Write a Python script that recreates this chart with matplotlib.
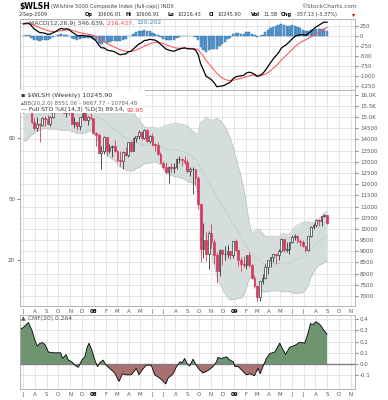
import numpy as np
import pandas as pd
import matplotlib
matplotlib.use('Agg')
import matplotlib.pyplot as plt
from matplotlib.patches import Rectangle
from matplotlib.text import Annotation

###
### Data (weekly bars, Wilshire 5000 full-cap)
###
# closes before the visible window, only used to warm up MACD / BB
pre_closes = [13631, 13793, 13823, 13911, 13779, 13947, 14152, 14150, 14107, 14239,
              14414, 14249, 14325, 14238, 14450, 14448, 14364, 14629, 14524, 14701,
              14657, 14010, 14169, 14008, 14505, 14351, 14582, 14674, 14992, 15090,
              15207, 15209, 15380, 15309, 15517, 15227, 15482, 15176, 15184]

first_week = '2007-07-02'

opens = [15210, 15490, 15710, 15530, 14770, 14500, 14710, 14630, 14970, 14920, 14710, 15020, 15440,
         15450, 15760, 15800, 15190, 15540, 15280, 14710, 14760, 14580, 14990, 15230, 14860, 15020,
         14960, 14290, 14180, 13410, 13470, 14120, 13470, 13660, 13690, 13470, 13090, 13040, 13460,
         13310, 13870, 13490, 14070, 14150, 14310, 14050, 14430, 13920, 14170, 13770, 13760, 13340,
         12940, 12780, 12540, 12760, 12730, 12750, 13120, 13140, 13080, 12980, 12570, 12670, 12700,
         12280, 11120, 9100, 9520, 8870, 9800, 9420, 8840, 8100, 9070, 8870, 8900, 8990,
         8830, 9460, 9040, 8630, 8440, 8380, 8820, 8390, 7820, 7460, 6940, 7680, 7800,
         8280, 8590, 8740, 8870, 8840, 9000, 9530, 9050, 9090, 9420, 9640, 9700, 9440,
         9420, 9230, 9060, 9690, 10090, 10170, 10410, 10340, 10570, 10607]
highs = [15520, 15760, 15830, 15550, 14990, 15000, 14730, 15000, 15050, 15100, 15060, 15500, 15560,
         15790, 15810, 15830, 15560, 15750, 15300, 14990, 14790, 15020, 15260, 15380, 15060, 15200,
         14980, 14350, 14300, 13720, 14160, 14130, 13780, 13730, 13990, 13510, 13500, 13480, 13640,
         13900, 13950, 14090, 14160, 14410, 14360, 14450, 14460, 14200, 14300, 13850, 13900, 13420,
         13020, 12980, 12830, 12960, 12930, 13180, 13250, 13170, 13250, 13140, 12780, 12780, 12700,
         12380, 11130, 10280, 9850, 9900, 10200, 9550, 8980, 9080, 9080, 9250, 9290, 9010,
         9480, 9560, 9060, 8730, 8810, 8820, 8950, 8420, 7960, 7480, 7690, 7990, 8420,
         8630, 8750, 8900, 8900, 9080, 9580, 9540, 9400, 9430, 9730, 9780, 9710, 9550,
         9500, 9240, 9700, 10120, 10250, 10440, 10460, 10590, 10680, 10607]
lows = [15180, 15300, 15480, 14720, 14440, 14380, 13900, 14600, 14620, 14690, 14600, 14980, 15350,
        15440, 15620, 15170, 15000, 15080, 14680, 14500, 14400, 14400, 14850, 14820, 14640, 14930,
        14250, 13700, 13380, 12700, 13350, 13250, 13380, 13220, 13440, 12980, 12820, 12700, 13240,
        13220, 13450, 13470, 13900, 14000, 13980, 14030, 13900, 13860, 13700, 13470, 13320, 12930,
        12660, 12450, 12050, 12550, 12510, 12660, 12950, 12820, 12920, 12480, 12350, 11560, 11980,
        10900, 8500, 8700, 8550, 8200, 9160, 8450, 7560, 7880, 8380, 8600, 8700, 8650,
        8680, 9000, 8330, 8100, 8290, 8200, 8280, 7780, 7380, 6780, 6780, 7520, 7780,
        7990, 8280, 8540, 8450, 8620, 8950, 8950, 8980, 8890, 9390, 9520, 9350, 9250,
        9200, 8970, 9000, 9620, 9990, 10100, 10120, 10120, 10510, 10216]
closes = [15490, 15710, 15530, 14770, 14500, 14710, 14630, 14970, 14920, 14710, 15020, 15440, 15450,
          15760, 15800, 15190, 15540, 15280, 14710, 14760, 14580, 14990, 15230, 14860, 15020, 14960,
          14290, 14180, 13410, 13470, 14120, 13470, 13660, 13690, 13470, 13090, 13040, 13460, 13310,
          13870, 13490, 14070, 14150, 14310, 14050, 14430, 13920, 14170, 13770, 13760, 13340, 12940,
          12780, 12540, 12760, 12730, 12750, 13120, 13140, 13080, 12980, 12570, 12670, 12700, 12280,
          11120, 9100, 9520, 8870, 9800, 9420, 8840, 8100, 9070, 8870, 8900, 8990, 8830,
          9460, 9040, 8630, 8440, 8380, 8820, 8390, 7820, 7460, 6940, 7680, 7800, 8280,
          8590, 8740, 8870, 8840, 9000, 9530, 9050, 9090, 9420, 9640, 9700, 9440, 9420,
          9230, 9060, 9690, 10090, 10170, 10410, 10340, 10570, 10610, 10246]

# Chaikin money flow
cmf_dates = ['2007-06-24', '2007-07-02', '2007-07-10', '2007-07-15', '2007-07-24', '2007-08-01',
             '2007-08-07', '2007-08-14', '2007-08-21', '2007-08-27', '2007-09-05', '2007-09-18',
             '2007-10-01', '2007-10-07', '2007-10-12', '2007-10-21', '2007-10-27', '2007-11-05',
             '2007-11-13', '2007-11-22', '2007-12-01', '2007-12-09', '2007-12-15', '2007-12-20',
             '2007-12-26', '2008-01-04', '2008-01-11', '2008-01-17', '2008-01-26', '2008-02-02',
             '2008-02-12', '2008-02-25', '2008-03-07', '2008-03-16', '2008-03-26', '2008-04-08',
             '2008-04-21', '2008-04-28', '2008-05-07', '2008-05-17', '2008-05-30', '2008-06-08',
             '2008-06-21', '2008-07-07', '2008-07-13', '2008-07-26', '2008-08-04', '2008-08-13',
             '2008-08-19', '2008-08-25', '2008-08-31', '2008-09-07', '2008-09-16', '2008-09-24',
             '2008-10-03', '2008-10-12', '2008-10-25', '2008-11-07', '2008-11-16', '2008-11-20',
             '2008-11-29', '2008-12-12', '2008-12-21', '2008-12-30', '2009-01-03', '2009-01-12',
             '2009-01-20', '2009-02-02', '2009-02-12', '2009-02-23', '2009-03-04', '2009-03-10',
             '2009-03-17', '2009-03-26', '2009-04-04', '2009-04-17', '2009-04-30', '2009-05-07',
             '2009-05-15', '2009-05-26', '2009-06-08', '2009-06-21', '2009-07-04', '2009-07-13',
             '2009-07-19', '2009-07-26', '2009-08-02', '2009-08-12', '2009-08-21', '2009-08-31']
cmf_values = [0.31, 0.325, 0.354, 0.368, 0.30, 0.21, 0.16, 0.185, 0.19, 0.174, 0.107, 0.10,
              0.10, 0.10, 0.05, 0.084, 0.035, 0.02, -0.01, -0.03, 0.035, 0.064, 0.15, 0.185,
              0.136, 0.035, -0.023, 0.012, 0.035, -0.01, -0.04, -0.08, -0.155, -0.087, -0.096, -0.096,
              -0.04, -0.096, -0.05, -0.01, -0.01, -0.096, -0.125, -0.177, -0.125, -0.087, -0.023, 0.02,
              0.012, 0.05, 0.006, -0.017, 0.043, -0.01, -0.052, -0.08, -0.058, -0.023, 0.02, 0.058,
              0.05, 0.064, 0.035, 0.02, -0.023, -0.023, -0.052, -0.096, -0.087, -0.104, -0.038, -0.087,
              -0.023, 0.05, 0.093, 0.107, 0.186, 0.136, 0.087, 0.15, 0.165, 0.194, 0.186, 0.28,
              0.36, 0.35, 0.377, 0.354, 0.31, 0.264]

price_ticks = list(range(7000, 16001, 500))
macd_ticks = [250, 0, -250, -500, -750, -1000, -1250]
cmf_ticks = [0.4, 0.3, 0.2, 0.1, 0.0, -0.1]
sto_ticks = [20, 50, 80]

###
### Indicators
###
all_close = pd.Series(pre_closes + closes, dtype=float)
ema12 = all_close.ewm(span=12, adjust=False).mean()
ema26 = all_close.ewm(span=26, adjust=False).mean()
macd_all = ema12 - ema26
signal_all = macd_all.ewm(span=9, adjust=False).mean()
mid_all = all_close.rolling(20).mean()
std_all = all_close.rolling(20).std(ddof=0)

n = len(closes)
macd = macd_all.values[-n:]
signal = signal_all.values[-n:]
hist = macd - signal
bb_mid = mid_all.values[-n:]
bb_up = bb_mid + 2 * std_all.values[-n:]
bb_lo = bb_mid - 2 * std_all.values[-n:]

dates = pd.date_range(first_week, periods=n, freq='7D')
cmf_x = pd.to_datetime(cmf_dates)
cmf_y = np.array(cmf_values)

###
### Figure layout (pixel based, 388x400)
###
W, H = 388, 400
fig = plt.figure(figsize=(W / 100, H / 100), dpi=100)

def box(top, bottom, left=20, right=355):
    return [left / W, 1 - bottom / H, (right - left) / W, (bottom - top) / H]

ax_macd = fig.add_axes(box(19, 90))
ax_price = fig.add_axes(box(90, 306))
ax_cmf = fig.add_axes(box(315, 389))

# left scale (stochastics) shares the price panel
ax_sto = ax_price.twinx()

grid_c = '#dcdcdc'
spine_c = '#a8a8a8'
tick_c = '#555555'
red = '#d43a5e'
xmin, xmax = pd.Timestamp('2007-06-23'), pd.Timestamp('2009-11-12')
months = pd.date_range('2007-07-01', '2009-11-01', freq='MS')
month_labels = [d.strftime('%y') if d.month == 1 else d.strftime('%b')[0] for d in months]

for ax in (ax_macd, ax_price, ax_cmf):
    ax.set_xlim(xmin, xmax)
    ax.set_xticks(months)
    ax.grid(True, color=grid_c, lw=0.5)
    ax.set_axisbelow(True)
    for s in ax.spines.values():
        s.set_color(spine_c)
        s.set_linewidth(0.6)
    ax.yaxis.tick_right()
    ax.yaxis.set_label_position('right')
    ax.tick_params(axis='both', labelsize=4, colors=tick_c, length=2, width=0.5, pad=1.5)

ax_macd.tick_params(axis='x', labelbottom=False, length=0)
for ax in (ax_price, ax_cmf):
    ax.set_xticklabels(month_labels)
    ax.tick_params(axis='x', length=0, pad=2.5)
    for lbl, d in zip(ax.get_xticklabels(), months):
        if d.month == 1:
            lbl.set_fontweight('bold')
            lbl.set_color('black')

###
### MACD panel
###
ax_macd.bar(dates, hist, width=6, color='#5a9bcf', edgecolor='#2f6fa6', lw=0.3, zorder=2)
ax_macd.plot(dates, signal, color='#ff5c5c', lw=0.8, zorder=3)
ax_macd.plot(dates, macd, color='black', lw=0.9, zorder=4)
ax_macd.set_ylim(-1350, 425)
ax_macd.set_yticks(macd_ticks)
ax_macd.set_yticklabels([str(v) for v in macd_ticks])

###
### Price panel
###
ax_price.fill_between(dates, bb_lo, bb_up, color='#d6dddd', lw=0, zorder=1)
ax_price.plot(dates, bb_up, color='#b8c2c2', lw=0.5, zorder=1)
ax_price.plot(dates, bb_lo, color='#b8c2c2', lw=0.5, zorder=1)
ax_price.plot(dates, bb_mid, color='#9aa4a4', lw=0.5, ls=':', zorder=1)

o = np.array(opens, dtype=float)
h = np.array(highs, dtype=float)
l = np.array(lows, dtype=float)
c = np.array(closes, dtype=float)
prev = np.concatenate([[o[0]], c[:-1]])
cols = np.where(c < prev, red, '#333333')
faces = np.where(c < o, cols, 'white')
ax_price.vlines(dates, l, h, colors=cols, lw=0.6, zorder=2)
ax_price.bar(dates, np.maximum(np.abs(c - o), 15), bottom=np.minimum(o, c), width=4.5,
             color=faces, edgecolor=cols, lw=0.5, zorder=3)

ax_price.set_ylim(6553, 16210)
ax_price.set_yticks(price_ticks)
ax_price.set_yticklabels(['%.1fK' % (v / 1000) if v >= 15000 else str(v) for v in price_ticks])

ax_sto.set_ylim(-2.6, 103.6)
ax_sto.yaxis.tick_left()
ax_sto.set_yticks(sto_ticks)
ax_sto.tick_params(axis='y', labelsize=4, colors=tick_c, length=2, width=0.5, pad=1.5)
for s in ax_sto.spines.values():
    s.set_visible(False)

# white box behind the legend
ax_price.add_patch(Rectangle((0, 1 - 23 / 216), 125 / 335, 23 / 216, transform=ax_price.transAxes,
                             facecolor='white', edgecolor='none', zorder=5))

###
### CMF panel
###
ax_cmf.fill_between(cmf_x, 0, cmf_y, where=cmf_y >= 0, interpolate=True, color='#6f9570', lw=0)
ax_cmf.fill_between(cmf_x, 0, cmf_y, where=cmf_y <= 0, interpolate=True, color='#a8706f', lw=0)
ax_cmf.plot(cmf_x, cmf_y, color='black', lw=0.6)
ax_cmf.axhline(0, color='#808080', lw=1.0, zorder=1)
ax_cmf.set_ylim(-0.222, 0.436)
ax_cmf.set_yticks(cmf_ticks)
ax_cmf.set_yticklabels(['%.1f' % v for v in cmf_ticks])

###
### Texts
###
def px(x, y):
    return x / W, 1 - y / H

def chain(parts, x, y, size):
    t = fig.text(*px(x, y), parts[0][0], color=parts[0][1], size=size, va='center', zorder=10)
    for p in parts[1:]:
        t = fig.add_artist(Annotation(p[0], xy=(1, 0), xycoords=t, va='bottom', ha='left',
                                      color=p[1], size=size, annotation_clip=False, zorder=10))
    return t

fig.text(*px(19, 6), '$WLSH', size=5.6, fontweight='bold', va='center')
fig.text(*px(51, 6.5), '(Wilshire 5000 Composite Index (full-cap)) INDX', size=3.7,
         color='#444444', va='center')
fig.text(*px(357, 6.5), '\u00a9StockCharts.com', size=4.2, color='#555555', va='center', ha='right')

fig.text(*px(19, 14.5), '2-Sep-2009', size=3.6, color='#333333', va='center')
header = [(85, 'Op', 98, '10606.91'), (126, 'Hi', 135, '10606.91'), (167, 'Lo', 177, '10216.43'),
          (209, 'Cl', 218, '10245.90'), (251, 'Vol', 263, '11.5B'), (281, 'Chg', 295, '-357.13 (-3.37%)')]
for x0, key, x1, val in header:
    fig.text(*px(x0, 14.5), key, size=3.7, fontweight='bold', va='center')
    fig.text(*px(x1, 14.5), val, size=3.6, color='#333333', va='center')
fig.text(*px(352, 14.5), '\u25be', size=4.5, color='#cc0000', va='center')

chain([('\u2014 MACD(12,26,9) 346.639, ', '#444444'), ('216.437, ', '#ff4040'),
       ('130.202', '#3a87c4')], 21, 23, 4.4)
chain([('\u25aa $WLSH (Weekly) 10245.90', '#333333')], 21, 96, 4.6)
chain([('\u25b4BB(20,2.0) 8551.06 - 9667.77 - 10784.48', '#666666')], 21, 103, 4.0)
chain([('\u2014 Full STO %K(14,3) %D(3) 89.14, ', '#333333'), ('92.95', '#ff3030')], 21, 110, 4.3)
chain([('\u25b2', '#3f6b3f'), (' CMF(20) 0.264', '#555555')], 21, 318.5, 4.3)

plt.savefig('out.png', dpi=100)
